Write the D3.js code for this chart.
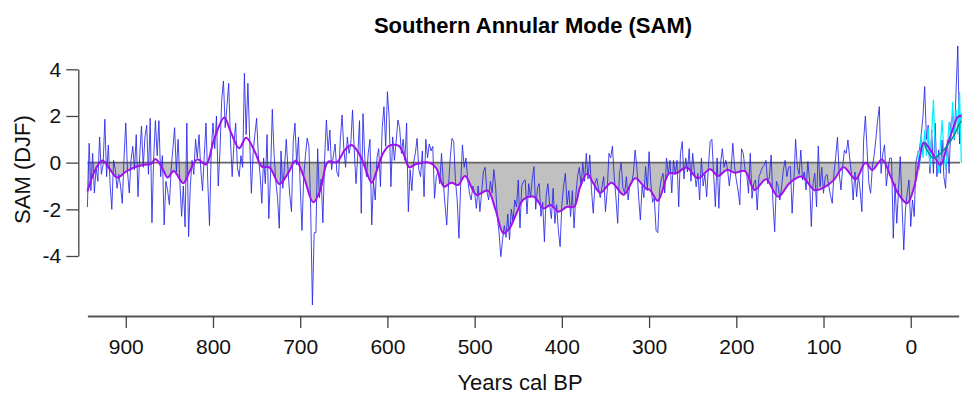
<!DOCTYPE html>
<html>
<head>
<meta charset="utf-8">
<script src="https://cdn.jsdelivr.net/npm/d3@7"></script>
<style>
  body { margin: 0; background: #fff; }
  svg { display: block; font-family: "Liberation Sans", Arial, sans-serif; }
</style>
</head>
<body>
<div id="chart"></div>
<script>
// annual SAM reconstruction, read every 2 years from 944 BP to -58 BP
var blueStartYear = 944, blueStep = 2;
var blueValues = [
  -1.9, 0.83, -1.2, 0.4, -1.3, -0.2, -0.8, 1.1, -0.5, -0.1,
  1.86, -0.6, 0.75, -0.9, -2.0, 0.1, -0.3, -1.1, -0.5, -1.0,
  -1.75, 0.2, 1.7, -0.4, -1.3, 0.1, 0.7, -0.3, 1.2, -1.46,
  0.3, 1.57, -0.2, 1.1, 1.6, -0.5, 1.9, -2.57, 0.2, 1.8,
  0.3, 1.8, -0.6, 0.3, -2.67, -0.8, -1.2, -1.8, -0.3, 0.6,
  1.5, -0.4, 1.0, -0.8, -2.3, -1.0, -2.75, 1.7, -3.17, -1.0,
  0.1, -0.5, 1.0, 0.2, 1.2, -0.3, -1.2, 0.3, 1.7, -0.8,
  -2.7, 0.5, 1.7, 0.6, 2.0, -1.0, 0.5, 2.7, 3.5, 1.5,
  2.4, 3.4, 1.0, -0.6,
  0.8, 1.69, -0.2, -0.6, 0.3, -0.2, 3.83, 1.2, 3.4, 1.1,
  -1.31, 0.4, 1.2, 1.9, 0.3, -0.5, -1.74, 0.2, -0.9, 1.2,
  -2.4, -0.5, 2.29, 0.4, -0.8, -1.5, -2.81, 0.5, -1.1, -0.2,
  1.0, -0.3, -1.4, -2.1, 0.9, 1.69, -0.1, 1.1, -1.0, -2.9,
  -0.6, 0.3, 1.05, 0.7, -2.0, -6.1, -3.0, -3.0, 0.6, -1.5,
  -0.7, -2.57, 0.2, 1.83, 0.5, 1.4, -0.3, 0.3, 0.8, -0.4,
  -0.6, 1.0, 2.04, 0.6, -0.2, 1.1, 0.4, 0.8, 2.26, 0.5,
  -0.9, 0.3, 1.8, -2.17, 2.1, 0.2, -0.6, 0.4, 1.0, -2.67,
  -0.8, -1.6, 0.2,
  0.6, -1.03, 1.5, 2.4, 0.7, 3.04, 1.9, -1.03, 1.1, 0.1,
  0.9, 1.83, 1.5, 0.4, 1.0, 0.1, 1.7, -2.1, -0.3, -1.2,
  0.0, 0.4, 1.04, -0.3, -0.6, 0.5, -1.46, 1.0, 0.2, 0.8,
  0.5, 0.7, -1.53, -0.6, -0.4, -0.9, 0.4, -0.8, -1.8, -2.67,
  -1.0, 0.2, 1.04, 0.9, -0.8, -1.6, -3.24, -0.9, 0.76, -0.2,
  0.2, -0.7, -1.3, -1.6, -1.0, -1.3, -1.96, -1.0, -2.1, -1.3,
  -0.4, -0.2, -1.2, -1.6, -0.8, -1.3, -0.3, -1.0, -2.31, -3.0,
  -4.03, -3.3, -2.7, -3.2, -2.2, -3.3, -2.0, -2.5, -1.6, -1.9,
  -0.74, -2.8, -1.0, -0.8,
  -0.74, -2.2, -0.9, -1.5, -0.74, -0.17, -2.0, -1.1, -0.9, -2.3,
  -1.7, -3.39, -1.4, -0.9, -1.8, -2.4, -1.1, -2.6, -1.8, -2.9,
  -3.6, -1.8, -1.0, -0.46, -1.8, -1.2, -2.31, -1.2, -2.8, -1.4,
  -0.6, -0.2, -1.0, 0.0, -0.8, 0.4, -0.7, 0.33, -1.2, -2.17,
  -0.9, -0.67, -1.1, -1.5, -1.03, -0.6, -2.1, -1.2, 0.4, 0.2,
  0.71, -0.6, -1.5, -2.6, -0.46, 0.0, -1.1, -1.3, -0.6, -1.6,
  -0.9, -0.9, -0.46, 0.54, -0.2, -1.46, -2.46, -1.0, -1.5, -0.17,
  -1.2, 0.47, -0.9, -1.7, -1.5, -2.9, -3.0, -1.2, -0.7, -0.46,
  -1.3, 0.2, -0.5, 0.1,
  -1.3, 0.1, -0.5, 0.1, -1.89, 0.4, 0.9, -0.7, 0.2, -0.4,
  0.6, -0.8, 0.4, -0.4, -1.03, -0.46, -1.6, 0.2, -1.0, -0.5,
  -1.46, -0.2, 0.9, 1.0, -0.5, -1.89, 0.2, -1.96, 0.0, 0.6,
  -0.2, 0.1, -0.3, -1.0, -0.3, 0.83, -0.17, -0.74, -1.17, -1.81,
  0.6, 0.4, -0.3, -0.5, -1.31, 0.4, -1.53, -0.9, -0.74, -2.03,
  -0.6, -0.4, -0.2, -0.1, 0.1, -0.9, -0.6, 0.33, -1.7, -2.96,
  -0.8, -1.0, -1.6, -1.03, -0.3, 0.1, -0.6, -0.2, -0.17, -2.17,
  -0.8, 1.0, -0.2, -0.5, 0.54, -0.74, -0.4, -1.17, 0.05, -0.74,
  -2.74, -0.9, -0.46,
  -1.89, 0.71, -1.03, -0.2, -1.31, -0.6, -0.5, -1.0, -1.4, -1.74,
  -0.46, 0.26, 1.09, -0.46, -1.17, -0.17, 0.54, 0.4, 0.97, 0.2,
  -0.46, -1.6, -0.4, -1.46, -0.5, -1.2, -2.1, 0.97, 2.0, 0.54,
  -0.9, -1.31, -0.2, 0.3, 1.0, 1.8, 2.4, -0.46, 0.4, 0.76,
  -1.0, -0.3, 0.2, 0.19, -3.24, -0.9, -2.6, -1.17, 0.26, -1.8,
  -3.74, -2.0, -1.3, -0.74, -2.74, -1.6, -2.31, 0.0, 0.4, 0.54,
  1.2, 1.97, 3.26, 1.0, 1.6, -0.46, 1.4, -0.46, 1.69, -0.6,
  0.54, -0.46, 0.97, -0.6, -1.1, 0.97, -0.46, 1.69, 2.0, 0.97,
  3.12, 5.0, 0.8, 2.1
];

// smoothed reconstruction (purple)
var smoothYears = [944, 936, 927, 919, 910, 900, 890, 879, 871, 866, 858, 852, 845, 834, 826, 818, 808, 799, 787, 780,
  770, 762, 752, 744, 735, 724, 714, 705, 696, 685, 677, 668, 658, 649, 641, 631, 618, 613, 605, 598,
  587, 581, 575, 567, 552, 544, 535, 527, 519, 511, 498, 485, 476, 467, 460, 452, 444, 432, 421, 413,
  404, 394, 386, 379, 371, 364, 356, 343, 329, 316, 304, 299, 290, 281, 277, 269, 257, 244, 230, 221,
  211, 202, 190, 179, 166, 152, 139, 125, 110, 98, 88, 77, 63, 52, 44, 33, 23, 15, 4, -4,
  -10, -15, -25, -34, -42, -50, -54, -58];
var smoothValues = [-1.24, -0.39, 0.09, -0.24, -0.64, -0.39, -0.2, -0.09, -0.05, 0.16, -0.24, -0.64, -0.36, -0.88, -0.31, 0.14, -0.08, 0.97, 1.93, 1.35,
  0.62, 1.07, 0.47, -0.17, -0.21, -0.91, -0.46, 0.09, -0.6, -1.7, -1.17, 0.04, 0.02, 0.54, 0.76, 0.29, -0.86, -0.43, 0.4, 0.72,
  0.72, 0.33, -0.2, -0.06, 0.0, -0.24, -1.03, -0.86, -0.96, -0.57, -1.38, -1.2, -2.03, -3.03, -2.81, -2.17, -1.58, -1.46, -1.96, -1.81,
  -2.1, -1.89, -1.89, -1.03, -0.48, -0.88, -1.29, -0.86, -1.38, -0.67, -1.1, -1.17, -1.63, -0.74, -0.45, -0.46, -0.21, -0.67, -0.28, -0.57,
  -0.31, -0.43, -0.36, -1.17, -0.71, -1.46, -0.88, -0.6, -1.18, -1.03, -0.74, -0.2, -0.71, 0.0, -0.31, 0.14, -0.6, -1.29, -1.74, -1.03,
  0.12, 0.86, 0.4, -0.1, 0.76, 1.62, 1.97, 2.0];

// instrumental index (cyan) and its smooth (teal)
var cyanStartYear = -8, cyanStep = -2;
var cyanValues = [0.5, -0.3, 1.2, 0.2, 1.4, 0.3, 1.5, -0.2, 1.2, 2.7,
  0.6, 0.2, -0.45, 0.8, 1.83, 0.4, -0.3, 0.6, 1.76, 0.9,
  2.6, 1.0, 2.3, 1.2, 3.04, 0.0];
var tealYears = [-15, -20, -26, -32, -38, -44, -50, -55, -58];
var tealValues = [0.84, 0.45, 0.19, 0.32, 0.54, 0.85, 1.19, 1.6, 1.79];

var xTicks = [900, 800, 700, 600, 500, 400, 300, 200, 100, 0];
var yTicks = [-4, -2, 0, 2, 4];

var width = 963, height = 396;

var blueData = blueValues.map(function(v, i) { return {year: blueStartYear - i * blueStep, v: v}; });
var smoothData = smoothYears.map(function(yr, i) { return {year: yr, v: smoothValues[i]}; });
var cyanData = cyanValues.map(function(v, i) { return {year: cyanStartYear + i * cyanStep, v: v}; });
var tealData = tealYears.map(function(yr, i) { return {year: yr, v: tealValues[i]}; });

var svg = d3.select("#chart").append("svg")
  .attr("width", width)
  .attr("height", height);

var x = d3.scaleLinear().domain([944, -55]).range([87.4, 958.7]);
var y = d3.scaleLinear().domain([-4, 4]).range([256, 69.3]);

// grey fill between zero and the smooth curve, only where it is negative
svg.append("clipPath").attr("id", "below")
  .append("rect")
  .attr("x", 0).attr("y", y(0))
  .attr("width", width).attr("height", height - y(0));

svg.append("path")
  .datum(smoothData)
  .attr("clip-path", "url(#below)")
  .attr("fill", "#c0c0c0")
  .attr("d", d3.area()
    .curve(d3.curveCatmullRom)
    .x(function(d) { return x(d.year); })
    .y0(y(0))
    .y1(function(d) { return y(d.v); }));

// zero line
svg.append("line")
  .attr("x1", x(944)).attr("x2", 960)
  .attr("y1", y(0)).attr("y2", y(0))
  .attr("stroke", "#666")
  .attr("stroke-width", 1.6);

var line = d3.line()
  .x(function(d) { return x(d.year); })
  .y(function(d) { return y(d.v); });

svg.append("path")
  .datum(blueData)
  .attr("fill", "none")
  .attr("stroke", "#2626e8")
  .attr("stroke-opacity", 0.85)
  .attr("stroke-width", 1)
  .attr("d", line);

svg.append("path")
  .datum(cyanData)
  .attr("fill", "none")
  .attr("stroke", "#00eeff")
  .attr("stroke-width", 1.2)
  .attr("d", line);

svg.append("path")
  .datum(smoothData)
  .attr("fill", "none")
  .attr("stroke", "#a010f0")
  .attr("stroke-width", 2)
  .attr("d", d3.line().curve(d3.curveCatmullRom)
    .x(function(d) { return x(d.year); })
    .y(function(d) { return y(d.v); }));

svg.append("path")
  .datum(tealData)
  .attr("fill", "none")
  .attr("stroke", "#078c8c")
  .attr("stroke-width", 1.5)
  .attr("d", d3.line().curve(d3.curveCatmullRom)
    .x(function(d) { return x(d.year); })
    .y(function(d) { return y(d.v); }));

// axes
var yAxis = svg.append("g")
  .attr("transform", "translate(78.3,0)")
  .call(d3.axisLeft(y).tickValues(yTicks).tickSize(12).tickSizeOuter(0).tickPadding(5)
    .tickFormat(function(d) { return String(d); }));
yAxis.select(".domain").attr("stroke", "#444").attr("stroke-width", 1.3);
yAxis.selectAll(".tick line").attr("stroke", "#444").attr("stroke-width", 1.3);
yAxis.selectAll(".tick text")
  .attr("font-size", 21)
  .attr("font-family", "Liberation Sans, Arial, sans-serif")
  .attr("fill", "#111");

var xAxis = svg.append("g")
  .attr("transform", "translate(0,316)")
  .call(d3.axisBottom(x).tickValues(xTicks).tickSize(12).tickSizeOuter(0).tickPadding(11)
    .tickFormat(function(d) { return String(d); }));
xAxis.select(".domain").attr("stroke", "#555").attr("stroke-width", 2.2);
xAxis.selectAll(".tick line").attr("stroke", "#444").attr("stroke-width", 1.3);
xAxis.selectAll(".tick text")
  .attr("font-size", 21)
  .attr("font-family", "Liberation Sans, Arial, sans-serif")
  .attr("fill", "#111");

// titles
svg.append("text")
  .attr("x", 533).attr("y", 33)
  .attr("text-anchor", "middle")
  .attr("font-size", 22)
  .attr("font-weight", "bold")
  .text("Southern Annular Mode (SAM)");

svg.append("text")
  .attr("transform", "translate(29.5,169.5) rotate(-90)")
  .attr("text-anchor", "middle")
  .attr("font-size", 22)
  .attr("fill", "#111")
  .text("SAM (DJF)");

svg.append("text")
  .attr("x", 520).attr("y", 390)
  .attr("text-anchor", "middle")
  .attr("font-size", 22)
  .attr("fill", "#111")
  .text("Years cal BP");
</script>
</body>
</html>
